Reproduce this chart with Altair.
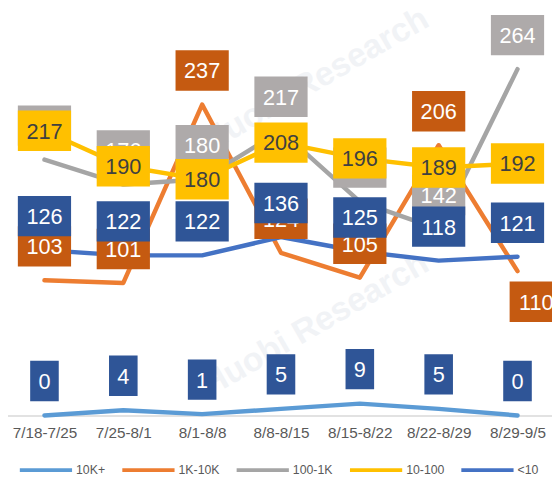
import altair as alt
import pandas as pd

categories = ["7/18-7/25", "7/25-8/1", "8/1-8/8", "8/8-8/15", "8/15-8/22", "8/22-8/29", "8/29-9/5"]
series_names = ["10K+", "1K-10K", "100-1K", "10-100", "<10"]
v_10k_plus = [0, 4, 1, 5, 9, 5, 0]
v_1k_10k = [103, 101, 237, 124, 105, 206, 110]
v_100_1k = [195, 176, 180, 217, 163, 142, 264]
v_10_100 = [217, 190, 180, 208, 196, 189, 192]
v_lt10 = [126, 122, 122, 136, 125, 118, 121]
watermark = "Huobi Research"

line_colors = ["#5B9BD5", "#ED7D31", "#A5A5A5", "#FFC000", "#4472C4"]
box_colors = ["#2F5597", "#C55A11", "#AEAAAA", "#FFC000", "#2F5597"]
text_colors = ["#FFFFFF", "#FFFFFF", "#FFFFFF", "#404040", "#FFFFFF"]
label_offsets = [-35, -34.5, -34.5, 0, -34.5]

all_values = [v_10k_plus, v_1k_10k, v_100_1k, v_10_100, v_lt10]
rows = []
for s, vals in zip(series_names, all_values):
    for c, v in zip(categories, vals):
        rows.append({"series": s, "category": c, "value": v, "label": str(v)})
df = pd.DataFrame(rows)

FONT = "Liberation Sans"
X = alt.X("category:N", sort=categories,
          scale=alt.Scale(type="point", domain=categories, range=[-3, 557], padding=0.5),
          axis=alt.Axis(title=None, labelAngle=0, ticks=False, grid=False,
                        domainColor="#D9D9D9", domainWidth=1.5,
                        labelFont=FONT, labelFontSize=15.5, labelColor="#595959",
                        labelPadding=10))
Y = alt.Y("value:Q", scale=alt.Scale(domain=[0, 308], nice=False, zero=True), axis=None)

color = alt.Color("series:N",
                  scale=alt.Scale(domain=series_names, range=line_colors),
                  legend=alt.Legend(title=None, orient="none", legendX=10, legendY=437,
                                    direction="horizontal", symbolType="stroke",
                                    symbolSize=2809, symbolStrokeWidth=4, gridAlign="none",
                                    labelFont=FONT, labelFontSize=12.5, labelColor="#595959",
                                    labelOffset=2, columnPadding=9, padding=0))

base = alt.Chart(df)

# faint watermark
wm_layers = []
for (wx, wy) in [(312, 70), (312, 318)]:
    wm_layers.append(
        alt.Chart(pd.DataFrame({"t": [watermark]})).mark_text(
            font=FONT, fontSize=34, fontWeight="bold", color="#F1F3F6", angle=330,
            align="center", baseline="middle"
        ).encode(x=alt.value(wx), y=alt.value(wy), text="t:N")
    )

line_layers = []
for s in series_names:
    line_layers.append(
        base.transform_filter(alt.datum.series == s).mark_line(
            strokeWidth=4.5, strokeCap="round", strokeJoin="round"
        ).encode(x=X, y=Y, color=color)
    )

def box_path(w, h):
    r = w / h
    return f"M{-r:.4f},-1L{r:.4f},-1L{r:.4f},1L{-r:.4f},1Z"

BOX_H = 41
special_cat = categories[-1]
label_layers = []
for i, s in enumerate(series_names):
    w = 29 if s == "10K+" else 54
    sel = base.transform_filter(alt.datum.series == s)
    if s == "1K-10K":
        sel = sel.transform_filter(alt.datum.category != special_cat)
    label_layers.append(
        sel.mark_point(shape=box_path(w, BOX_H), size=BOX_H * BOX_H, filled=True, opacity=1,
                       fill=box_colors[i], strokeWidth=0, yOffset=label_offsets[i])
        .encode(x=X, y=Y)
    )
    label_layers.append(
        sel.mark_text(font=FONT, fontSize=22, color=text_colors[i], align="center",
                      baseline="middle", yOffset=label_offsets[i] + 1)
        .encode(x=X, y=Y, text="label:N")
    )
    if s == "1K-10K":
        sp = base.transform_filter((alt.datum.series == s) & (alt.datum.category == special_cat))
        label_layers.append(
            sp.mark_point(shape=box_path(54, BOX_H), size=BOX_H * BOX_H, filled=True, opacity=1,
                          fill=box_colors[i], strokeWidth=0, xOffset=19, yOffset=31)
            .encode(x=X, y=Y)
        )
        label_layers.append(
            sp.mark_text(font=FONT, fontSize=22, color=text_colors[i], align="center",
                         baseline="middle", xOffset=19, yOffset=32)
            .encode(x=X, y=Y, text="label:N")
        )

chart = alt.layer(*wm_layers, *line_layers, *label_layers).properties(
    width=552, height=410,
    autosize=alt.AutoSizeParams(type="none"),
    padding={"left": 0, "top": 0, "right": 0, "bottom": 59},
    background="white",
).configure_view(stroke=None)

chart.save("out.html", embed_options={"renderer": "svg", "actions": False})
